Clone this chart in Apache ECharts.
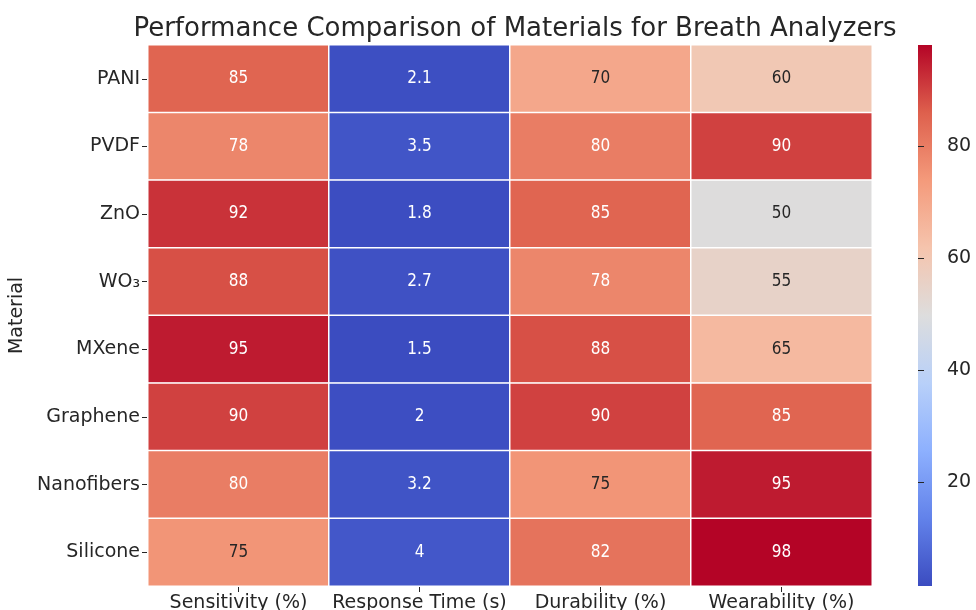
<!DOCTYPE html>
<html><head><meta charset="utf-8">
<script src="https://cdn.jsdelivr.net/npm/echarts@6/dist/echarts.min.js"></script>
<style>html,body{margin:0;padding:0;background:#fff}#c{width:976px;height:610px}</style>
</head><body><div id="c"></div>
<script>
const materials = ['PANI','PVDF','ZnO','WO₃','MXene','Graphene','Nanofibers','Silicone'];
const metrics = ['Sensitivity (%)','Response Time (s)','Durability (%)','Wearability (%)'];
const sensitivity = [85,78,92,88,95,90,80,75];
const responseTime = [2.1,3.5,1.8,2.7,1.5,2,3.2,4];
const durability = [70,80,85,78,88,90,75,82];
const wearability = [60,90,50,55,65,85,95,98];
const colorbarTicks = [20,40,60,80];

const cols = [sensitivity,responseTime,durability,wearability];
const vMin = 1.5, vMax = 98;
const data = [];
cols.forEach((arr,ci)=>arr.forEach((v,ri)=>{
  const dark = v > 22 && v < 77;
  data.push({value:[ci,ri,v],label:{color: dark ? '#262626' : '#ffffff'}});
}));
const coolwarm = ['#3b4cc0','#6282ea','#8db0fe','#b8d0f9','#dddddd','#f5c4ad','#f49a7b','#de604d','#b40426'];
const FONT = 'DejaVu Sans';
const CB = {left:918, top:45, width:14, height:541};
const chart = echarts.init(document.getElementById('c'));
chart.setOption({
  animation:false,
  textStyle:{fontFamily:FONT},
  title:{text:'Performance Comparison of Materials for Breath Analyzers',left:510,top:11,textAlign:'center',
    textStyle:{fontFamily:FONT,fontSize:26,fontWeight:'normal',color:'#262626'}},
  grid:[{left:148,right:104,top:45,bottom:24,outerBoundsMode:'none',containLabel:false},
        {left:CB.left,width:CB.width,top:CB.top,height:CB.height,outerBoundsMode:'none',containLabel:false}],
  graphic:[{type:'rect',left:CB.left,top:CB.top,z:-1,
    shape:{x:0,y:0,width:CB.width,height:CB.height},
    style:{fill:new echarts.graphic.LinearGradient(0,1,0,0,
      coolwarm.map((c,i)=>({offset:i/(coolwarm.length-1),color:c})))}}],
  xAxis:[{type:'category',data:metrics,gridIndex:0,position:'bottom',
    axisLine:{show:false},splitArea:{show:false},
    axisTick:{show:true,alignWithLabel:true,length:6,lineStyle:{color:'#262626'}},
    axisLabel:{fontSize:19,color:'#262626',margin:8,interval:0,fontFamily:FONT}},
    {type:'value',gridIndex:1,show:false,min:0,max:1}],
  yAxis:[{type:'category',data:materials,inverse:true,gridIndex:0,
    name:'Material',nameLocation:'middle',nameGap:114,nameRotate:90,
    nameTextStyle:{fontSize:19,color:'#262626',fontFamily:FONT},
    axisLine:{show:false},
    axisTick:{show:true,alignWithLabel:true,length:6,lineStyle:{color:'#262626'}},
    axisLabel:{fontSize:19,color:'#262626',margin:8,interval:0,fontFamily:FONT}},
    {type:'value',gridIndex:1,position:'right',min:vMin,max:vMax,
     axisLine:{show:false},splitLine:{show:false},
     axisTick:{show:true,length:6,customValues:colorbarTicks,lineStyle:{color:'#262626'}},
     axisLabel:{show:true,customValues:colorbarTicks,fontSize:19,color:'#262626',margin:15,fontFamily:FONT}}],
  visualMap:{type:'continuous',min:vMin,max:vMax,show:false,seriesIndex:0,
    inRange:{color:coolwarm}},
  series:[{type:'heatmap',xAxisIndex:0,yAxisIndex:0,data:data,
    itemStyle:{borderColor:'#ffffff',borderWidth:1.5},
    label:{show:true,fontSize:17,fontFamily:'DejaVu Sans Condensed, DejaVu Sans',formatter:p=>String(p.value[2])},
    emphasis:{disabled:true}}]
});
</script></body></html>
